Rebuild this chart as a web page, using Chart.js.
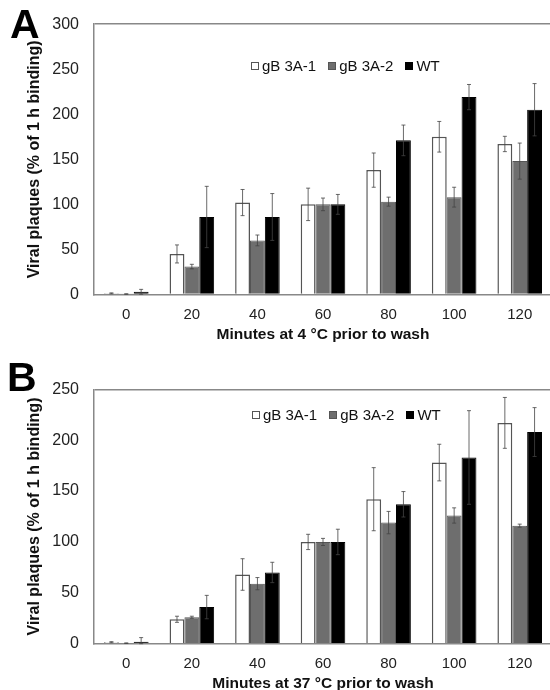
<!DOCTYPE html>
<html>
<head>
<meta charset="utf-8">
<script src="https://cdn.jsdelivr.net/npm/chart.js@4.4.1/dist/chart.umd.min.js"></script>
<style>
  html, body { margin: 0; padding: 0; background: #fff; overflow: hidden; }
  #page { position: relative; width: 550px; height: 690px; overflow: hidden; font-family: Arial, "Liberation Sans", sans-serif; }
  .panel { position: absolute; left: 0; }
  .letter { position: absolute; font-weight: bold; font-size: 41px; line-height: 41px; color: #000; }
  .legend { position: absolute; display: flex; align-items: center; font-size: 15px; color: #111; white-space: nowrap; }
  .legend .item { display: flex; align-items: center; margin-right: 12px; }
  .legend .box { width: 8px; height: 8px; box-sizing: border-box; margin-right: 3px; }
</style>
</head>
<body>
<div id="page">
  <canvas id="chartA" class="panel" width="556" height="345" style="top:0"></canvas>
  <canvas id="chartB" class="panel" width="556" height="354" style="top:340px"></canvas>
  <div class="letter" style="left:10px; top:4px">A</div>
  <div class="letter" style="left:7px; top:357px">B</div>
  <div id="legendA" class="legend" style="left:251px; top:57px"></div>
  <div id="legendB" class="legend" style="left:252px; top:406px"></div>
</div>
<script>
// x categories
const minutes = ['0', '20', '40', '60', '80', '100', '120'];
const seriesNames = ['gB 3A-1', 'gB 3A-2', 'WT'];

// Panel A: 4 °C
const a3A1 = [1.3, 45, 102, 100, 138, 175, 167];
const a3A1Err = [0.5, 10, 14.5, 18, 19, 17, 8.5];
const a3A2 = [0.5, 31, 60, 100, 103, 108, 148];
const a3A2Err = [0.3, 2.5, 6, 7, 5, 11, 20];
const aWT = [3, 86, 86, 100, 171, 219, 205];
const aWTErr = [2.7, 34, 26, 11, 17, 14, 29];

// Panel B: 37 °C
const b3A1 = [1.5, 24, 68, 100, 142, 178, 217];
const b3A1Err = [0.5, 3, 15.5, 7.5, 31, 18, 25];
const b3A2 = [0.5, 26, 59, 100, 119, 126, 116];
const b3A2Err = [0.3, 1, 6, 3.5, 11, 7.5, 1.5];
const bWT = [2, 36, 70, 100, 137, 183, 208];
const bWTErr = [4, 11.5, 10, 12.5, 12.5, 46, 24];

const fills = ['#ffffff', '#6e6e6e', '#000000'];
const borders = ['#555555', '#555555', '#000000'];
const fontFamily = 'Arial, "Liberation Sans", sans-serif';

// draw error bars on top of the bars
const errorBars = {
    id: 'errorBars',
    afterDatasetsDraw(chart) {
        const ctx = chart.ctx;
        const y = chart.scales.y;
        ctx.save();
        ctx.strokeStyle = '#444';
        ctx.lineWidth = 0.8;
        chart.data.datasets.forEach((ds, i) => {
            const meta = chart.getDatasetMeta(i);
            meta.data.forEach((bar, j) => {
                const v = ds.data[j];
                const e = ds.errors[j];
                const top = y.getPixelForValue(v + e);
                const bot = y.getPixelForValue(Math.max(0, v - e));
                const x = bar.x;
                ctx.beginPath();
                ctx.moveTo(x, top);
                ctx.lineTo(x, bot);
                ctx.moveTo(x - 2, top);
                ctx.lineTo(x + 2, top);
                ctx.moveTo(x - 2, bot);
                ctx.lineTo(x + 2, bot);
                ctx.stroke();
            });
        });
        ctx.restore();
    }
};

const makeChart = (id, values, errors, yMax, padTop, xHeight, xTitle) => {
    return new Chart(document.getElementById(id), {
        type: 'bar',
        data: {
            labels: minutes,
            datasets: values.map((d, i) => ({
                label: seriesNames[i],
                data: d,
                errors: errors[i],
                backgroundColor: fills[i],
                borderColor: borders[i],
                borderWidth: i === 0 ? 1.5 : 1,
                barPercentage: 1,
                categoryPercentage: 0.68
            }))
        },
        options: {
            responsive: false,
            animation: false,
            layout: { padding: { left: 0, top: padTop, right: 3.5, bottom: 0 } },
            plugins: {
                legend: { display: false },
                tooltip: { enabled: false }
            },
            scales: {
                x: {
                    grid: { display: false },
                    border: { color: '#888', width: 1.5 },
                    ticks: {
                        color: '#222',
                        padding: 3,
                        font: { family: fontFamily, size: 15 }
                    },
                    title: {
                        display: true,
                        text: xTitle,
                        color: '#111',
                        padding: { top: 0, bottom: 1 },
                        font: { family: fontFamily, size: 15.5, weight: 'bold' }
                    },
                    afterFit: s => { s.height = xHeight; }
                },
                y: {
                    min: 0,
                    max: yMax,
                    grid: {
                        drawTicks: false,
                        lineWidth: 1.5,
                        color: c => (c.tick && c.tick.value === yMax) ? '#888' : 'rgba(0,0,0,0)'
                    },
                    border: { color: '#888', width: 1.5 },
                    ticks: {
                        stepSize: 50,
                        color: '#222',
                        padding: 14.5,
                        font: { family: fontFamily, size: 16 }
                    },
                    title: {
                        display: true,
                        text: 'Viral plaques (% of 1 h binding)',
                        color: '#111',
                        padding: { top: 25, bottom: 0 },
                        font: { family: fontFamily, size: 16, weight: 'bold' }
                    },
                    afterFit: s => { s.width = 93.5; }
                }
            }
        },
        plugins: [errorBars]
    });
};

const buildLegend = (el) => {
    seriesNames.forEach((name, i) => {
        const item = document.createElement('div');
        item.className = 'item';
        const box = document.createElement('span');
        box.className = 'box';
        box.style.background = fills[i];
        box.style.border = '1px solid ' + borders[i];
        const txt = document.createElement('span');
        txt.textContent = name;
        item.appendChild(box);
        item.appendChild(txt);
        el.appendChild(item);
    });
};

makeChart('chartA', [a3A1, a3A2, aWT], [a3A1Err, a3A2Err, aWTErr], 300, 22, 50.5,
    'Minutes at 4 °C prior to wash');
makeChart('chartB', [b3A1, b3A2, bWT], [b3A1Err, b3A2Err, bWTErr], 250, 49.3, 50.3,
    'Minutes at 37 °C prior to wash');
buildLegend(document.getElementById('legendA'));
buildLegend(document.getElementById('legendB'));
</script>
</body>
</html>
